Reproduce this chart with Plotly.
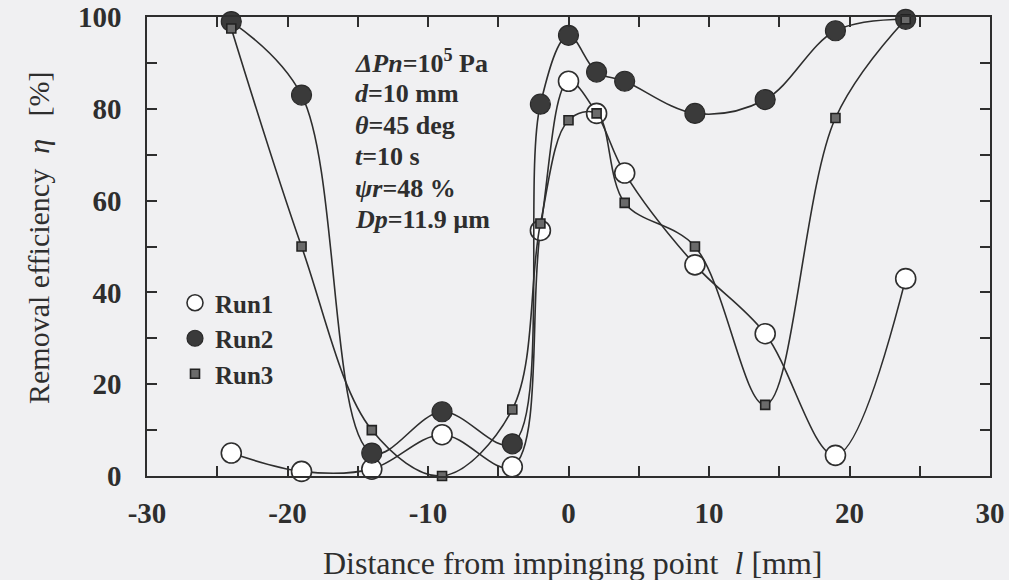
import plotly.graph_objects as go

# ---- data ----
distance = [-24, -19, -14, -9, -4, -2, 0, 2, 4, 9, 14, 19, 24]
run1 = [5, 1, 1.5, 9, 2, 53.5, 86, 79, 66, 46, 31, 4.5, 43]
run2 = [99, 83, 5, 14, 7, 81, 96, 88, 86, 79, 82, 97, 99.5]
run3 = [97.5, 50, 10, 0, 14.5, 55, 77.5, 79, 59.5, 50, 15.5, 78, 99.5]
series_names = ["Run1", "Run2", "Run3"]
x_ticks = [-30, -20, -10, 0, 10, 20, 30]
y_ticks = [0, 20, 40, 60, 80, 100]
conditions = [
    "<i>ΔPn</i>=10<sup>5</sup> Pa",
    "<i>d</i>=10 mm",
    "<i>θ</i>=45 deg",
    "<i>t</i>=10 s",
    "<i>ψr</i>=48 %",
    "<i>Dp</i>=11.9 µm",
]

INK = "#2e2e2e"
BG = "#f0f0f2"
SERIF = "Liberation Serif, Times New Roman, serif"
W, H = 1009, 580
L, R, T, B = 147, 990, 17, 476


def px(xp):
    return (xp - L) / (R - L)


def py(yp):
    return (B - yp) / (B - T)


styles = [
    dict(symbol="circle", size=20, color="#ffffff", line=dict(color=INK, width=1.6)),
    dict(symbol="circle", size=20, color="#3a3a3a", line=dict(color="#2a2a2a", width=1.2)),
    dict(symbol="square", size=9, color="#6a6a6a", line=dict(color="#222222", width=1.6)),
]

fig = go.Figure()
for name, ys, st in zip(series_names, [run1, run2, run3], styles):
    fig.add_trace(go.Scatter(
        x=distance, y=ys, mode="lines+markers", name=name, showlegend=False,
        line=dict(color=INK, width=1.6, shape="spline", smoothing=1.0),
        marker=st, cliponaxis=False,
    ))
for name, st in zip(series_names, styles):
    fig.add_trace(go.Scatter(
        x=[None], y=[None], mode="markers", name=name, showlegend=True, marker=st,
    ))

for i, txt in enumerate(conditions):
    fig.add_annotation(
        x=px(353), y=py(62 + i * 31.6), xref="paper", yref="paper", text=txt,
        showarrow=False, xanchor="left", yanchor="middle",
        font=dict(family=SERIF, size=26, color=INK, weight="bold"),
    )

fig.add_annotation(
    text="Removal efficiency  <i>η</i>   [%]", x=px(38), y=py(238), xref="paper", yref="paper",
    textangle=-90, showarrow=False, xanchor="center", yanchor="middle",
    font=dict(family=SERIF, size=30, color=INK),
)
fig.add_annotation(
    text="Distance from impinging point  <i>l</i> [mm]", x=px(572), y=py(563),
    xref="paper", yref="paper",
    showarrow=False, xanchor="center", yanchor="middle",
    font=dict(family=SERIF, size=32, color=INK),
)

axis_common = dict(
    showline=True, linecolor=INK, linewidth=1.6, mirror="ticks",
    ticks="inside", ticklen=10, tickwidth=1.5, tickcolor=INK,
    showgrid=False, zeroline=False, automargin=False,
    tickfont=dict(family=SERIF, size=29, color=INK, weight="bold"),
)
fig.update_xaxes(range=[-30, 30], tickvals=x_ticks, ticktext=[str(v) for v in x_ticks],
                 minor=dict(dtick=5, tick0=0, ticks="inside", ticklen=10, tickwidth=1.5, tickcolor=INK),
                 ticklabelstandoff=10, **axis_common)
fig.update_yaxes(range=[0, 100], tickvals=y_ticks, ticktext=[str(v) for v in y_ticks],
                 minor=dict(dtick=10, tick0=0, ticks="inside", ticklen=10, tickwidth=1.5, tickcolor=INK),
                 ticklabelstandoff=18, **axis_common)

fig.update_layout(
    width=W, height=H,
    margin=dict(l=L, r=W - R, t=T, b=H - B, autoexpand=False),
    paper_bgcolor=BG, plot_bgcolor=BG,
    legend=dict(x=px(175), y=py(280), xanchor="left", yanchor="top",
                bgcolor="rgba(0,0,0,0)", borderwidth=0,
                font=dict(family=SERIF, size=25, color=INK, weight="bold"),
                itemwidth=30, tracegroupgap=0),
)

fig.write_html("out.html")
